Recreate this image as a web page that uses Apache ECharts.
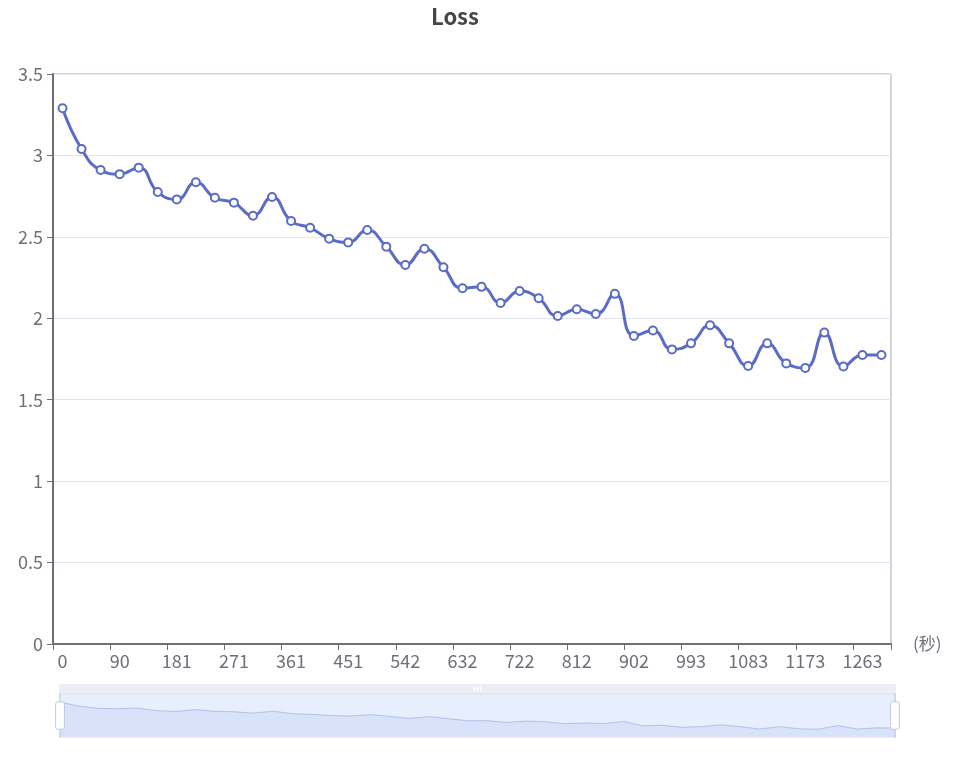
<!DOCTYPE html>
<html>
<head>
<meta charset="utf-8">
<script src="https://cdn.jsdelivr.net/npm/echarts@6/dist/echarts.min.js"></script>
<style>html,body{margin:0;padding:0;background:#fff;}#main{width:958px;height:757px;}</style>
</head>
<body>
<div id="main"></div>
<script>
const titleText = 'Loss';
const xName = '(秒)';
const seconds = ['0','30','60','90','120','150','181','211','241','271','301','331','361','391','421','451','481','512','542','572','602','632','662','692','722','752','782','812','842','872','902','932','963','993','1023','1053','1083','1113','1143','1173','1203','1233','1263','1293'];
const loss = [3.29,3.04,2.91,2.885,2.925,2.775,2.73,2.835,2.74,2.71,2.63,2.745,2.597,2.556,2.489,2.466,2.542,2.44,2.327,2.427,2.313,2.184,2.193,2.094,2.167,2.123,2.014,2.055,2.026,2.15,1.891,1.925,1.809,1.846,1.957,1.846,1.707,1.846,1.723,1.695,1.912,1.704,1.775,1.775];
const yTicks = {min: 0, max: 3.5, interval: 0.5};

const FONT = "'Microsoft YaHei','Noto Sans CJK SC',sans-serif";
const chart = echarts.init(document.getElementById('main'));
chart.setOption({
  animation: false,
  textStyle: {fontFamily: FONT},
  title: {text: titleText, left: 426, top: 1, textStyle: {fontSize: 22, fontWeight: 'bold', color: '#464646', fontFamily: FONT}},
  grid: {left: 53, right: 67, top: 74, bottom: 113, show: true, borderColor: '#a8aab2', borderWidth: 1, backgroundColor: 'transparent'},
  xAxis: {
    type: 'category', data: seconds, boundaryGap: true,
    name: xName, nameGap: 22, nameTextStyle: {fontSize: 17, color: '#6E7079', fontFamily: FONT},
    axisLine: {lineStyle: {color: '#6E7079', width: 2}},
    axisTick: {show: true, length: 6},
    axisLabel: {fontSize: 18, color: '#6E7079', interval: 2, margin: 8, fontFamily: FONT}
  },
  yAxis: {
    type: 'value', min: yTicks.min, max: yTicks.max, interval: yTicks.interval,
    axisLine: {show: true, lineStyle: {color: '#6E7079', width: 2}},
    axisTick: {show: true, length: 6},
    axisLabel: {fontSize: 18, color: '#6E7079', margin: 10, fontFamily: FONT},
    splitLine: {lineStyle: {color: '#E0E6F1'}}
  },
  dataZoom: [{type: 'slider', left: 55, right: 66, top: 684, height: 44, moveHandleSize: 10,
    moveHandleStyle: {color: '#d8deec'}, start: 0, end: 100}],
  series: [{
    type: 'line', data: loss, smooth: true,
    symbol: 'emptyCircle', symbolSize: 8, showAllSymbol: true,
    lineStyle: {width: 3, color: '#5a6cc6'},
    itemStyle: {color: '#5a6cc6', borderWidth: 2.5}
  }]
});
</script>
</body>
</html>
